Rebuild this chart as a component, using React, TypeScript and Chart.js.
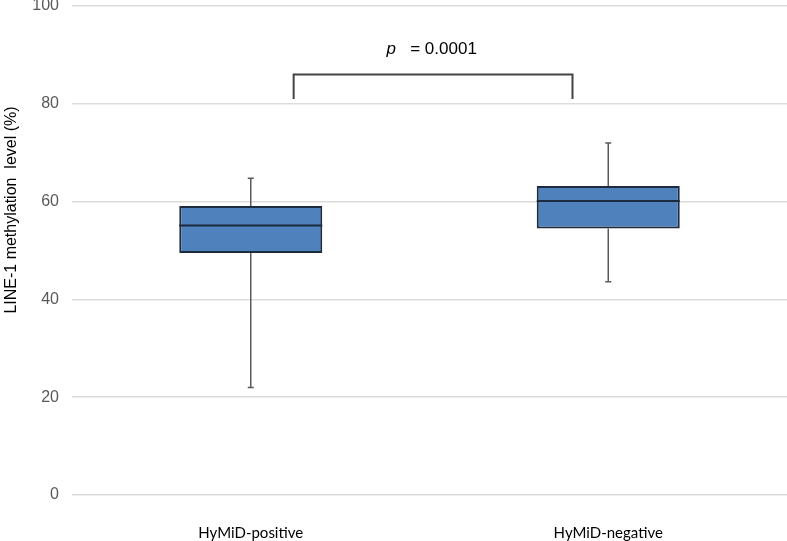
import React, { useEffect, useRef } from "react";
import { Chart, registerables } from "chart.js";

Chart.register(...registerables);

// ---- data ----
const categories = ["HyMiD-positive", "HyMiD-negative"];
const whiskerMin = [22.0, 43.6];
const q1 = [49.5, 54.5];
const median = [55.1, 60.1];
const q3 = [59.1, 63.2];
const whiskerMax = [64.8, 72.0];

const yMin = 0;
const yMax = 100;
const yStep = 20;
const yTitle = "LINE-1 methylation  level (%)";

// significance bracket
const bracketX = [0.12, 0.9]; // category index positions
const bracketY = [81, 86]; // bottom of legs, top bar
const pLabelItalic = "p";
const pLabelRest = "   = 0.0001";
const pLabelY = 91.2;
const pLabelX = 0.38;

const BOX_FILL = "#4f81bd";
const BOX_EDGE = "#1c2b3d";
const WHISKER = "#5a5a5a";

const boxPlugin = {
  id: "boxExtras",
  beforeDatasetsDraw(chart: any) {
    const ctx = chart.ctx;
    const xs = chart.scales.x;
    const ys = chart.scales.y;
    ctx.save();
    ctx.strokeStyle = WHISKER;
    ctx.lineWidth = 1.5;
    for (let i = 0; i < categories.length; i++) {
      const x = xs.getPixelForValue(i);
      const yLo = ys.getPixelForValue(whiskerMin[i]);
      const yHi = ys.getPixelForValue(whiskerMax[i]);
      const yQ1 = ys.getPixelForValue(q1[i]);
      const yQ3 = ys.getPixelForValue(q3[i]);
      ctx.beginPath();
      ctx.moveTo(x, yLo);
      ctx.lineTo(x, yQ1);
      ctx.moveTo(x, yQ3);
      ctx.lineTo(x, yHi);
      ctx.moveTo(x - 3, yLo);
      ctx.lineTo(x + 3, yLo);
      ctx.moveTo(x - 3, yHi);
      ctx.lineTo(x + 3, yHi);
      ctx.stroke();
    }
    ctx.restore();
  },
  afterDatasetsDraw(chart: any) {
    const ctx = chart.ctx;
    const xs = chart.scales.x;
    const ys = chart.scales.y;
    const meta = chart.getDatasetMeta(0);
    ctx.save();
    // medians
    ctx.strokeStyle = BOX_EDGE;
    ctx.lineWidth = 2;
    for (let i = 0; i < categories.length; i++) {
      const bar = meta.data[i];
      const w = bar.width;
      const x = xs.getPixelForValue(i);
      const y = ys.getPixelForValue(median[i]);
      ctx.beginPath();
      ctx.moveTo(x - w / 2, y);
      ctx.lineTo(x + w / 2, y);
      ctx.stroke();
    }
    // bracket
    const bx0 = xs.getPixelForValue(bracketX[0]);
    const bx1 = xs.getPixelForValue(bracketX[1]);
    const by0 = ys.getPixelForValue(bracketY[0]);
    const by1 = ys.getPixelForValue(bracketY[1]);
    ctx.strokeStyle = "#444444";
    ctx.lineWidth = 2;
    ctx.beginPath();
    ctx.moveTo(bx0, by0);
    ctx.lineTo(bx0, by1);
    ctx.lineTo(bx1, by1);
    ctx.lineTo(bx1, by0);
    ctx.stroke();
    // p label
    const tx = xs.getPixelForValue(pLabelX);
    const ty = ys.getPixelForValue(pLabelY);
    ctx.fillStyle = "#000000";
    ctx.textBaseline = "middle";
    ctx.textAlign = "left";
    ctx.font = "italic 17px 'Liberation Sans', Arial, sans-serif";
    ctx.fillText(pLabelItalic, tx, ty);
    const pw = ctx.measureText(pLabelItalic).width;
    ctx.font = "17px 'Liberation Sans', Arial, sans-serif";
    ctx.fillText(pLabelRest, tx + pw, ty);
    // y title
    ctx.save();
    ctx.translate(chart.chartArea.left - 60, 210);
    ctx.rotate(-Math.PI / 2);
    ctx.textAlign = "center";
    ctx.font = "16px 'Liberation Sans', Arial, sans-serif";
    ctx.fillStyle = "#000000";
    ctx.fillText(yTitle, 0, 0);
    ctx.restore();
    ctx.restore();
  },
};

export default function App() {
  const ref = useRef<HTMLCanvasElement>(null);
  useEffect(() => {
    if (!ref.current) return;
    const chart = new Chart(ref.current, {
      type: "bar",
      data: {
        labels: categories,
        datasets: [
          {
            data: categories.map((_, i) => [q1[i], q3[i]]) as any,
            backgroundColor: BOX_FILL,
            borderColor: BOX_EDGE,
            borderWidth: 2,
            borderSkipped: false,
            barPercentage: 0.4,
            categoryPercentage: 1,
          },
        ],
      },
      options: {
        animation: false,
        responsive: true,
        maintainAspectRatio: false,
        layout: { padding: { top: 6, right: 0, bottom: 0, left: 0 } },
        plugins: {
          legend: { display: false },
          tooltip: { enabled: false },
          title: { display: false },
        },
        scales: {
          x: {
            grid: { display: false, drawTicks: false },
            border: { display: false },
            ticks: {
              color: "#000000",
              padding: 29,
              font: { family: "Lato, 'Open Sans', sans-serif", size: 15 },
            },
            afterFit: (s: any) => {
              s.height = 46;
            },
          },
          y: {
            min: yMin,
            max: yMax,
            grid: { color: "#dcdcdc", lineWidth: 1.5, drawTicks: false },
            border: { display: false },
            ticks: {
              stepSize: yStep,
              color: "#595959",
              padding: 13,
              font: { family: "'Liberation Sans', Arial, sans-serif", size: 16 },
            },
            afterFit: (s: any) => {
              s.width = 72;
              s.paddingTop = 0;
              s.paddingBottom = 0;
            },
          },
        },
      },
      plugins: [boxPlugin],
    });
    return () => chart.destroy();
  }, []);
  return (
    <div
      style={{
        position: "fixed",
        left: 0,
        top: 0,
        width: 787,
        height: 541,
        background: "#ffffff",
      }}
    >
      <canvas ref={ref} />
    </div>
  );
}
